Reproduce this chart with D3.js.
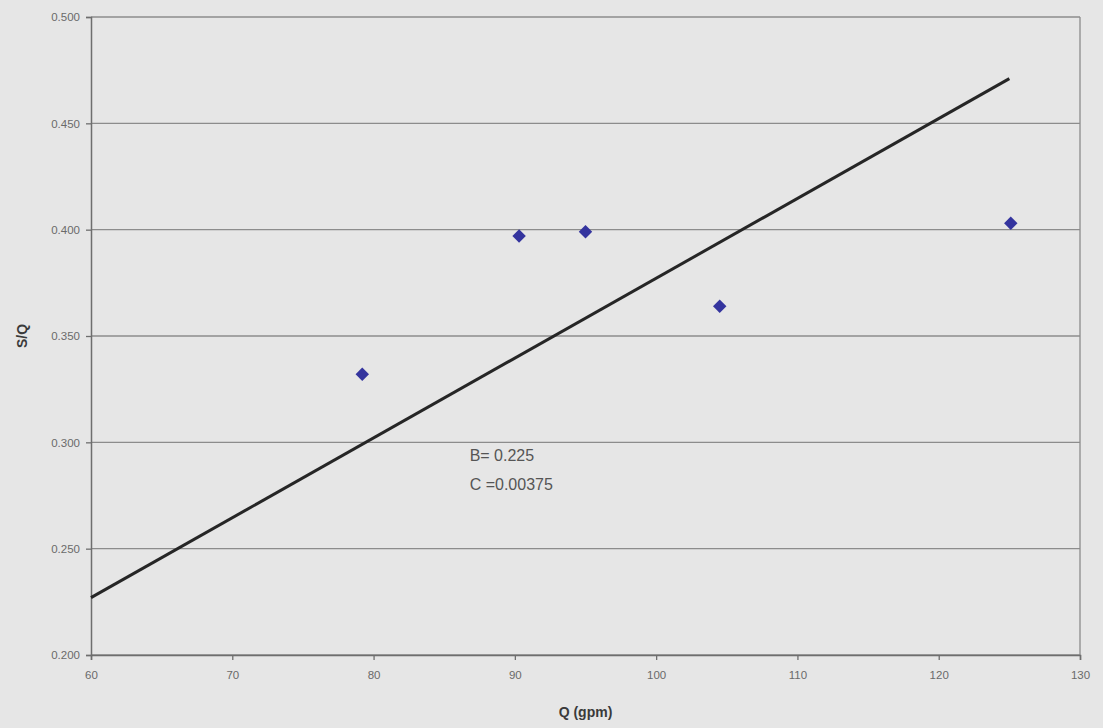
<!DOCTYPE html>
<html>
<head>
<meta charset="utf-8">
<script src="https://cdn.jsdelivr.net/npm/d3@7"></script>
<style>
  body { margin: 0; background: #e6e6e6; }
  svg { display: block; }
</style>
</head>
<body>
<div id="chart"></div>
<script>
// measured values, S/Q vs Q
const flowQ = [79.2, 90.3, 95.0, 104.5, 125.1];
const specificSQ = [0.332, 0.397, 0.399, 0.364, 0.403];

// fitted line endpoints
const fitQ = [60, 125];
const fitSQ = [0.227, 0.471];

const xTicks = [60, 70, 80, 90, 100, 110, 120, 130];
const yTicks = [0.200, 0.250, 0.300, 0.350, 0.400, 0.450, 0.500];
const notes = ["B= 0.225", "C =0.00375"];

const width = 1103, height = 728;
const margin = { top: 17, right: 23, bottom: 73, left: 91 };

const svg = d3.select("#chart").append("svg")
    .attr("width", width)
    .attr("height", height);

svg.append("rect")
    .attr("width", width)
    .attr("height", height)
    .attr("fill", "#e6e6e6");

const x = d3.scaleLinear().domain([60, 130]).range([margin.left, width - margin.right]);
const y = d3.scaleLinear().domain([0.2, 0.5]).range([height - margin.bottom, margin.top]);

// gridlines
svg.append("g")
    .selectAll("line")
    .data(yTicks)
    .join("line")
    .attr("x1", x(60))
    .attr("x2", x(130))
    .attr("y1", d => y(d))
    .attr("y2", d => y(d))
    .attr("stroke", "#8c8c8c")
    .attr("stroke-width", 1.3);

// right border of plot area
svg.append("line")
    .attr("x1", x(130)).attr("x2", x(130))
    .attr("y1", y(0.5)).attr("y2", y(0.2))
    .attr("stroke", "#8c8c8c")
    .attr("stroke-width", 1.3);

// axes
const xAxis = svg.append("g")
    .attr("transform", `translate(0,${y(0.2)})`)
    .call(d3.axisBottom(x).tickValues(xTicks).tickSize(5).tickPadding(11).tickFormat(d3.format("d")));

const yAxis = svg.append("g")
    .attr("transform", `translate(${x(60)},0)`)
    .call(d3.axisLeft(y).tickValues(yTicks).tickSize(5).tickPadding(6).tickFormat(d3.format(".3f")));

[xAxis, yAxis].forEach(a => {
    a.select(".domain").attr("stroke", "#6e6e6e").attr("stroke-width", 1.5);
    a.selectAll(".tick line").attr("stroke", "#6e6e6e").attr("stroke-width", 1.3);
    a.selectAll("text")
        .attr("fill", "#6a6a6a")
        .style("font-family", "Arial, 'Liberation Sans', sans-serif")
        .style("font-size", "11.5px");
});

// fit line
svg.append("path")
    .datum(d3.zip(fitQ, fitSQ))
    .attr("fill", "none")
    .attr("stroke", "#262626")
    .attr("stroke-width", 3)
    .attr("d", d3.line().x(d => x(d[0])).y(d => y(d[1])));

// data points
svg.append("g")
    .selectAll("path")
    .data(d3.zip(flowQ, specificSQ))
    .join("path")
    .attr("d", d3.symbol().type(d3.symbolDiamond2).size(115))
    .attr("transform", d => `translate(${x(d[0])},${y(d[1])})`)
    .attr("fill", "#34349e");

// annotation
svg.append("g")
    .selectAll("text")
    .data(notes)
    .join("text")
    .attr("x", x(86.8))
    .attr("y", (d, i) => y(0.291) + i * 29)
    .attr("fill", "#555")
    .style("font-family", "Arial, 'Liberation Sans', sans-serif")
    .style("font-size", "16px")
    .text(d => d);

// axis titles
svg.append("text")
    .attr("x", (x(60) + x(130)) / 2)
    .attr("y", 717)
    .attr("text-anchor", "middle")
    .attr("fill", "#3a3a3a")
    .style("font-family", "Arial, 'Liberation Sans', sans-serif")
    .style("font-size", "14px")
    .style("font-weight", "bold")
    .text("Q (gpm)");

svg.append("text")
    .attr("transform", `translate(27,${(y(0.2) + y(0.5)) / 2}) rotate(-90)`)
    .attr("text-anchor", "middle")
    .attr("fill", "#3a3a3a")
    .style("font-family", "Arial, 'Liberation Sans', sans-serif")
    .style("font-size", "14px")
    .style("font-weight", "bold")
    .text("S/Q");
</script>
</body>
</html>
